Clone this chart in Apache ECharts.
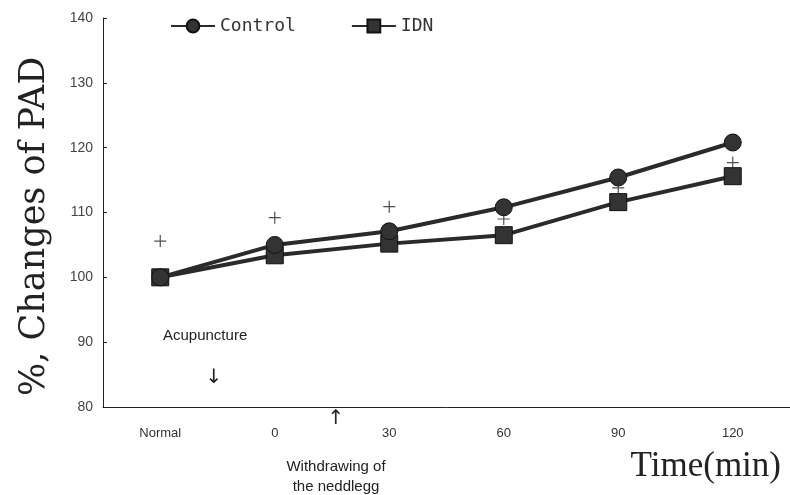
<!DOCTYPE html>
<html>
<head>
<meta charset="utf-8">
<script src="https://cdn.jsdelivr.net/npm/echarts@6/dist/echarts.min.js"></script>
<style>
  html, body { margin: 0; padding: 0; background: #fff; }
  #main { width: 790px; height: 495px; }
</style>
</head>
<body>
<div id="main"></div>
<script>
// data
var categories = ["Normal", "0", "30", "60", "90", "120"];
var controlValues = [100, 105, 107.1, 110.8, 115.4, 120.8];
var idnValues = [100, 103.4, 105.2, 106.5, 111.6, 115.6];
// "+" significance marks above the points
var plusValues = [105.6, 109.2, 110.9, 109.0, 113.8, 117.7];
var yTicks = { min: 80, max: 140, interval: 10 };

var chartDom = document.getElementById("main");
var myChart = echarts.init(chartDom);

var plusData = plusValues.map(function (v, i) {
  return [categories[i], v];
});

var option = {
  animation: false,
  backgroundColor: "#fff",
  grid: { left: 103, top: 18, width: 693, bottom: 88 },
  legend: {
    left: 165,
    top: 12,
    itemGap: 55,
    itemWidth: 44,
    itemHeight: 16,
    data: ["Control", "IDN"],
    textStyle: { fontFamily: "DejaVu Sans Mono", fontSize: 18, color: "#333" }
  },
  xAxis: {
    type: "category",
    data: categories,
    boundaryGap: true,
    axisLine: { lineStyle: { color: "#222", width: 1 } },
    axisTick: { inside: true, length: 4, lineStyle: { color: "#222" } },
    axisLabel: {
      margin: 20,
      color: "#333",
      fontFamily: "Liberation Sans",
      fontSize: 13
    },
    splitLine: { show: false }
  },
  yAxis: {
    type: "value",
    min: yTicks.min,
    max: yTicks.max,
    interval: yTicks.interval,
    axisLine: { show: true, lineStyle: { color: "#222", width: 1 } },
    axisTick: { show: true, inside: true, length: 4, lineStyle: { color: "#222" } },
    axisLabel: {
      margin: 10,
      color: "#444",
      fontFamily: "Liberation Sans",
      fontSize: 14
    },
    splitLine: { show: false }
  },
  series: [
    {
      name: "Control",
      type: "line",
      data: controlValues,
      symbol: "circle",
      symbolSize: 17,
      lineStyle: { color: "#2a2a2a", width: 4 },
      itemStyle: { color: "#333", borderColor: "#111", borderWidth: 1 },
      z: 3
    },
    {
      name: "IDN",
      type: "line",
      data: idnValues,
      symbol: "rect",
      symbolSize: 17,
      lineStyle: { color: "#2a2a2a", width: 4 },
      itemStyle: { color: "#333", borderColor: "#111", borderWidth: 1 },
      z: 2
    },
    {
      name: "sig",
      type: "scatter",
      data: plusData,
      symbol: "path://M0,5L10,5M5,0L5,10",
      symbolSize: 12,
      itemStyle: { color: "none", borderColor: "#222", borderWidth: 1.2 },
      z: 4
    }
  ],
  graphic: [
    {
      type: "text",
      x: 163,
      y: 328,
      style: { text: "Acupuncture", font: "15px Liberation Sans", fill: "#222" }
    },
    {
      type: "text",
      x: 214,
      y: 368,
      style: { text: "↓", font: "20px DejaVu Sans", fill: "#222", align: "center" }
    },
    {
      type: "text",
      x: 336,
      y: 409,
      style: { text: "↑", font: "20px DejaVu Sans", fill: "#222", align: "center" }
    },
    {
      type: "text",
      x: 336,
      y: 457,
      style: {
        text: "Withdrawing of\nthe neddlegg",
        font: "15px Liberation Sans",
        fill: "#222",
        align: "center",
        lineHeight: 20
      }
    },
    {
      type: "text",
      x: 781,
      y: 449,
      style: { text: "Time(min)", font: "35px Liberation Serif", fill: "#222", align: "right" }
    },
    {
      type: "text",
      x: 17,
      y: 396,
      rotation: Math.PI / 2,
      style: {
        text: "%, Changes of PAD",
        font: "35px DejaVu Serif",
        fill: "#222",
        textVerticalAlign: "top"
      }
    }
  ]
};

myChart.setOption(option);
</script>
</body>
</html>
